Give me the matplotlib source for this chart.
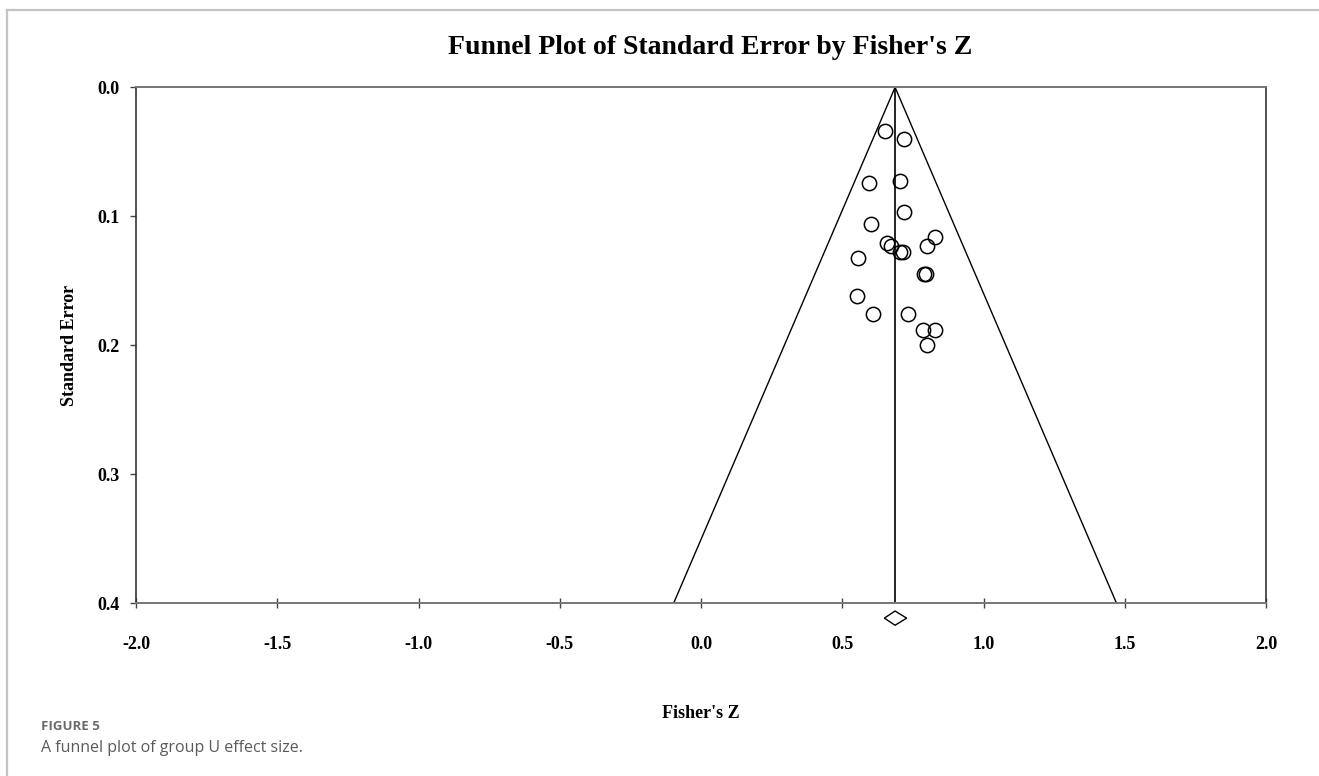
import numpy as np
import matplotlib
matplotlib.use('Agg')
import matplotlib.pyplot as plt
from matplotlib.lines import Line2D
from matplotlib.patches import Polygon

# study effect sizes (Fisher's Z) and standard errors
fisher_z = [0.651, 0.720, 0.596, 0.704, 0.720, 0.603, 0.828, 0.657, 0.673,
            0.704, 0.716, 0.801, 0.557, 0.789, 0.796, 0.551, 0.610, 0.732,
            0.787, 0.828, 0.799]
std_err = [0.034, 0.040, 0.074, 0.073, 0.097, 0.106, 0.116, 0.121, 0.123,
           0.128, 0.128, 0.123, 0.132, 0.145, 0.145, 0.162, 0.176, 0.176,
           0.188, 0.188, 0.200]
mean_z = 0.687
ci_low, ci_high = 0.649, 0.728
x_ticks = [-2.0, -1.5, -1.0, -0.5, 0.0, 0.5, 1.0, 1.5, 2.0]
y_ticks = [0.0, 0.1, 0.2, 0.3, 0.4]

serif = 'Liberation Serif'

fig = plt.figure(figsize=(13.19, 7.76), dpi=100)
ax = fig.add_axes([136/1319, 1 - 603.3/776, (1266-136)/1319, (603.3-87.3)/776])

se_max = 0.4
ax.plot([mean_z, mean_z - 1.96*se_max], [0, se_max], color='black', lw=1)
ax.plot([mean_z, mean_z + 1.96*se_max], [0, se_max], color='black', lw=1)
ax.plot([mean_z, mean_z], [0, se_max], color='black', lw=1.2)
ax.plot(fisher_z, std_err, 'o', ms=10.3, mfc='none', mec='black', mew=1.1, clip_on=False)

# summary diamond under the axis
yd, hd = 0.4115, 0.0055
diamond = Polygon([(ci_low, yd), (mean_z, yd - hd), (ci_high, yd), (mean_z, yd + hd)],
                  closed=True, fill=False, ec='black', lw=1, clip_on=False)
ax.add_patch(diamond)

ax.set_xlim(-2.0, 2.0)
ax.set_ylim(0.4, 0.0)
ax.set_xticks(x_ticks)
ax.set_yticks(y_ticks)
ax.set_xticklabels([f'{v:.1f}' for v in x_ticks], fontfamily=serif, fontweight='bold', fontsize=13)
ax.set_yticklabels([f'{v:.1f}' for v in y_ticks], fontfamily=serif, fontweight='bold', fontsize=13)
ax.tick_params(axis='x', direction='inout', length=7, width=1, pad=20, color='#444')
ax.tick_params(axis='y', direction='out', length=4, width=1, pad=8, color='#444')

for s in ['top', 'bottom']:
    ax.spines[s].set_color('#777777')
    ax.spines[s].set_linewidth(1.4)
for s in ['left', 'right']:
    ax.spines[s].set_color('#333333')
    ax.spines[s].set_linewidth(1.2)

fig.text(710/1319, 1 - 48/776, "Funnel Plot of Standard Error by Fisher's Z",
         ha='center', va='center', fontfamily=serif, fontweight='bold', fontsize=20)
fig.text(701/1319, 1 - 713/776, "Fisher's Z", ha='center', va='center',
         fontfamily=serif, fontweight='bold', fontsize=13)
fig.text(69/1319, 1 - 345/776, 'Standard Error', ha='center', va='center', rotation=90,
         fontfamily=serif, fontweight='bold', fontsize=13)

# journal caption and frame
fig.text(41/1319, 1 - 726/776, 'FIGURE 5', ha='left', va='center',
         fontfamily='Open Sans', fontweight='bold', fontsize=9.5, color='#6b6b6b')
fig.text(41/1319, 1 - 748/776, 'A funnel plot of group U effect size.', ha='left', va='center',
         fontfamily='Open Sans', fontsize=11.5, color='#5a5a5a')
fig.add_artist(Line2D([7/1319, 7/1319], [0, 1 - 10/776], color='#c4c4c4', lw=1.6))
fig.add_artist(Line2D([7/1319, 1], [1 - 10/776, 1 - 10/776], color='#c4c4c4', lw=1.6))

fig.savefig('out.png', dpi=100)
